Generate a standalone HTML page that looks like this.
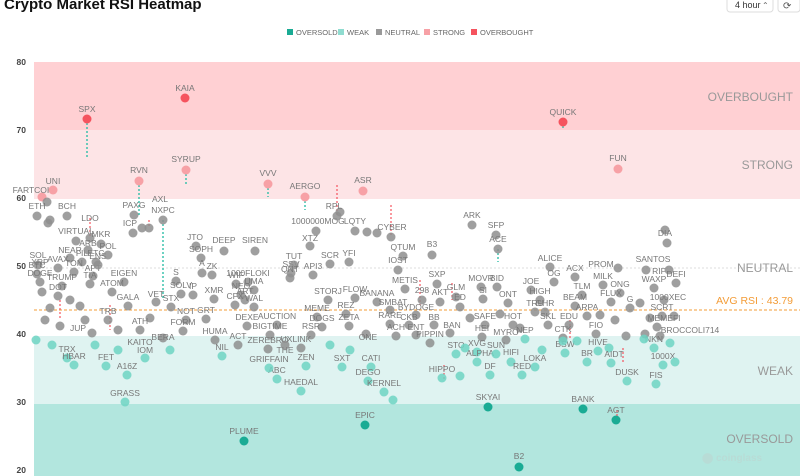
<!DOCTYPE html>
<html><head><meta charset="utf-8"><style>
body{margin:0;background:#fff;width:800px;height:476px;overflow:hidden;font-family:"Liberation Sans",sans-serif}
svg{position:absolute;left:0;top:0}
.n{fill:#8e8e8e;fill-opacity:.85}
.w{fill:#6fd3c3;fill-opacity:.85}
.o{fill:#1aab94}
.s{fill:#f7a1a6}
.b{fill:#f5535e}
text{font-family:"Liberation Sans",sans-serif}
.l text{font-size:8.5px;fill:#777;text-anchor:middle}
.dr{stroke:#f5535e;stroke-width:1.2;stroke-dasharray:2 2}
.dt{stroke:#2fbfa8;stroke-width:1.4;stroke-dasharray:2 2}
</style></head><body>
<svg width="800" height="476" viewBox="0 0 800 476">
<text x="4" y="9" font-size="15" font-weight="bold" fill="#111">Crypto Market RSI Heatmap</text>
<rect x="727" y="-4" width="46" height="16" rx="3" fill="#fff" stroke="#ddd"/>
<text x="735" y="8" font-size="9" fill="#333">4 hour</text><text x="762" y="8" font-size="8" fill="#666">⌃</text>
<rect x="778" y="-4" width="22" height="16" rx="3" fill="#fff" stroke="#ddd"/>
<text x="783" y="9" font-size="10" fill="#555">⟳</text>
<g font-size="7.5" fill="#666">
<rect x="287" y="29" width="6" height="6" fill="#1aab94"/><text x="296" y="35">OVERSOLD</text>
<rect x="338" y="29" width="6" height="6" fill="#8fdcd0"/><text x="347" y="35">WEAK</text>
<rect x="376" y="29" width="6" height="6" fill="#999"/><text x="385" y="35">NEUTRAL</text>
<rect x="424" y="29" width="6" height="6" fill="#f7a1a6"/><text x="433" y="35">STRONG</text>
<rect x="471" y="29" width="6" height="6" fill="#f5535e"/><text x="480" y="35">OVERBOUGHT</text>
</g>
<rect x="34" y="62" width="766" height="68" fill="#ffd0d3"/>
<rect x="34" y="130" width="766" height="69" fill="#fde4e6"/>
<rect x="34" y="336" width="766" height="68" fill="#dff3f1"/>
<rect x="34" y="404" width="766" height="72" fill="#b2e6de"/>
<line x1="34" y1="268" x2="800" y2="268" stroke="#ddd" stroke-dasharray="2 2"/>
<g font-size="8.5" font-weight="bold" fill="#444" text-anchor="end">
<text x="26" y="65">80</text><text x="26" y="133">70</text><text x="26" y="201">60</text><text x="26" y="269">50</text><text x="26" y="337">40</text><text x="26" y="405">30</text><text x="26" y="473">20</text></g>
<g font-size="12" fill="#999" text-anchor="end">
<text x="793" y="101">OVERBOUGHT</text><text x="793" y="169">STRONG</text><text x="793" y="272">NEUTRAL</text><text x="793" y="375">WEAK</text><text x="793" y="443">OVERSOLD</text></g>
<text x="793" y="304" font-size="10.5" fill="#f39c37" text-anchor="end">AVG RSI : 43.79</text>
<line x1="34" y1="310" x2="800" y2="310" stroke="#f39c37" stroke-dasharray="3 2"/>
<text x="702" y="461" font-size="10" fill="#b8dcd6" font-weight="bold">⬤ coinglass</text>
<g>
<line class="dt" x1="87" y1="119" x2="87" y2="158"/><line class="dt" x1="163" y1="220" x2="163" y2="300"/>
<line class="dt" x1="139" y1="181" x2="139" y2="215"/><line class="dt" x1="186" y1="170" x2="186" y2="186"/>
<line class="dt" x1="268" y1="184" x2="268" y2="197"/><line class="dt" x1="305" y1="197" x2="305" y2="210"/>
<line class="dt" x1="498" y1="249" x2="498" y2="262"/><line class="dt" x1="563" y1="122" x2="563" y2="128"/>
<line class="dr" x1="337" y1="185" x2="337" y2="216"/><line class="dr" x1="391" y1="205" x2="391" y2="237"/>
<line class="dr" x1="90" y1="218" x2="90" y2="238"/><line class="dr" x1="149" y1="220" x2="149" y2="228"/>
<line class="dr" x1="623" y1="348" x2="623" y2="362"/><line class="dr" x1="444" y1="365" x2="444" y2="380"/>
<line class="dr" x1="420" y1="280" x2="420" y2="305"/><line class="dr" x1="452" y1="283" x2="452" y2="300"/>
<line class="dr" x1="110" y1="305" x2="110" y2="330"/><line class="dr" x1="60" y1="300" x2="60" y2="320"/>
<line class="dr" x1="570" y1="320" x2="570" y2="340"/><line class="dr" x1="617" y1="410" x2="617" y2="420"/>
</g>
<g class="l">
<circle class="b" cx="87" cy="119" r="4.5"/><text x="87" y="112">SPX</text>
<circle class="b" cx="185" cy="98" r="4.5"/><text x="185" y="91">KAIA</text>
<circle class="b" cx="563" cy="122" r="4.5"/><text x="563" y="115">QUICK</text>
<circle class="s" cx="186" cy="170" r="4.5"/><text x="186" y="162">SYRUP</text>
<circle class="s" cx="139" cy="181" r="4.5"/><text x="139" y="173">RVN</text>
<circle class="s" cx="268" cy="184" r="4.5"/><text x="268" y="176">VVV</text>
<circle class="s" cx="305" cy="197" r="4.5"/><text x="305" y="189">AERGO</text>
<circle class="s" cx="363" cy="191" r="4.5"/><text x="363" y="183">ASR</text>
<circle class="s" cx="618" cy="169" r="4.5"/><text x="618" y="161">FUN</text>
<circle class="s" cx="42" cy="197" r="4.5"/><text x="34" y="193">FARTCOIN</text>
<circle class="s" cx="53" cy="190" r="4.5"/><text x="53" y="184">UNI</text>
<circle class="n" cx="47" cy="202" r="4.5"/>
<circle class="n" cx="37" cy="216" r="4.5"/><text x="37" y="209">ETH</text>
<circle class="n" cx="67" cy="216" r="4.5"/><text x="67" y="209">BCH</text>
<circle class="n" cx="50" cy="220" r="4.5"/><circle class="n" cx="48" cy="223" r="4.5"/>
<circle class="n" cx="90" cy="238" r="4.5"/><text x="90" y="221">LDO</text>
<circle class="n" cx="76" cy="241" r="4.5"/><text x="76" y="234">VIRTUAL</text>
<circle class="n" cx="101" cy="244" r="4.5"/><text x="101" y="237">MKR</text>
<circle class="n" cx="134" cy="215" r="4.5"/><text x="134" y="208">PAXG</text>
<circle class="n" cx="163" cy="220" r="4.5"/><text x="160" y="202">AXL</text><text x="163" y="213">NXPC</text>
<circle class="n" cx="133" cy="233" r="4.5"/><text x="130" y="226">ICP</text>
<circle class="n" cx="142" cy="228" r="4.5"/><circle class="n" cx="149" cy="228" r="4.5"/>
<circle class="n" cx="316" cy="231" r="4.5"/><text x="318" y="224">1000000MOG</text>
<circle class="n" cx="337" cy="216" r="4.5"/><circle class="n" cx="340" cy="212" r="4.5"/><text x="334" y="209">RPL</text>
<circle class="n" cx="355" cy="231" r="4.5"/><text x="355" y="224">LQTY</text>
<circle class="n" cx="367" cy="232" r="4.5"/><circle class="n" cx="377" cy="233" r="4.5"/>
<circle class="n" cx="391" cy="237" r="4.5"/><text x="392" y="230">CYBER</text>
<circle class="n" cx="310" cy="246" r="4.5"/><text x="310" y="241">XTZ</text>
<circle class="n" cx="196" cy="246" r="4.5"/><text x="195" y="240">JTO</text>
<circle class="n" cx="224" cy="251" r="4.5"/><text x="224" y="243">DEEP</text>
<circle class="n" cx="255" cy="251" r="4.5"/><text x="255" y="243">SIREN</text>
<circle class="n" cx="472" cy="225" r="4.5"/><text x="472" y="218">ARK</text>
<circle class="n" cx="496" cy="235" r="4.5"/><text x="496" y="228">SFP</text>
<circle class="n" cx="498" cy="249" r="4.5"/><text x="498" y="242">ACE</text>
<circle class="n" cx="403" cy="256" r="4.5"/><text x="403" y="250">QTUM</text>
<circle class="n" cx="432" cy="255" r="4.5"/><text x="432" y="247">B3</text>
<circle class="n" cx="667" cy="243" r="4.5"/><circle class="n" cx="665" cy="230" r="4.5"/><text x="665" y="236">DIA</text>
<circle class="n" cx="398" cy="270" r="4.5"/><text x="398" y="263">IOST</text>
<circle class="n" cx="38" cy="265" r="4.5"/><text x="38" y="258">SOL</text>
<circle class="n" cx="37" cy="274" r="4.5"/><text x="37" y="268">BTC</text>
<circle class="n" cx="40" cy="282" r="4.5"/><text x="40" y="276">DOGE</text>
<circle class="n" cx="42" cy="292" r="4.5"/><text x="40" y="265">XRP</text>
<circle class="n" cx="82" cy="262" r="4.5"/><text x="82" y="256">FIL</text>
<circle class="n" cx="88" cy="250" r="4.5"/><text x="88" y="246">ARB</text>
<circle class="n" cx="96" cy="262" r="4.5"/><text x="96" y="256">ETC</text>
<circle class="n" cx="70" cy="258" r="4.5"/><text x="70" y="253">NEAR</text>
<circle class="n" cx="58" cy="268" r="4.5"/><text x="58" y="262">AVAX</text>
<circle class="n" cx="74" cy="272" r="4.5"/><text x="74" y="266">TON</text>
<circle class="n" cx="93" cy="276" r="4.5"/><text x="93" y="271">APT</text>
<circle class="n" cx="98" cy="265" r="4.5"/><text x="98" y="259">ENS</text>
<circle class="n" cx="108" cy="255" r="4.5"/><text x="108" y="249">POL</text>
<circle class="n" cx="124" cy="282" r="4.5"/><text x="124" y="276">EIGEN</text>
<circle class="n" cx="62" cy="286" r="4.5"/><text x="62" y="280">TRUMP</text>
<circle class="n" cx="90" cy="284" r="4.5"/><text x="90" y="278">TIA</text>
<circle class="n" cx="58" cy="296" r="4.5"/><text x="58" y="290">DOT</text>
<circle class="n" cx="112" cy="292" r="4.5"/><text x="112" y="286">ATOM</text>
<circle class="n" cx="128" cy="306" r="4.5"/><text x="128" y="300">GALA</text>
<circle class="n" cx="108" cy="320" r="4.5"/><text x="108" y="314">TRB</text>
<circle class="n" cx="80" cy="306" r="4.5"/><circle class="n" cx="70" cy="300" r="4.5"/><circle class="n" cx="50" cy="308" r="4.5"/>
<circle class="n" cx="45" cy="320" r="4.5"/><circle class="n" cx="60" cy="326" r="4.5"/><circle class="n" cx="85" cy="320" r="4.5"/>
<circle class="n" cx="92" cy="333" r="4.5"/><circle class="n" cx="118" cy="330" r="4.5"/><circle class="n" cx="150" cy="318" r="4.5"/>
<circle class="n" cx="140" cy="330" r="4.5"/><text x="140" y="324">ATH</text><text x="78" y="331">JUP</text>
<circle class="n" cx="163" cy="338" r="4.5"/><text x="163" y="340">BERA</text>
<circle class="n" cx="156" cy="302" r="4.5"/><text x="156" y="297">VET</text>
<circle class="n" cx="171" cy="307" r="4.5"/><text x="171" y="301">STX</text>
<circle class="n" cx="176" cy="281" r="4.5"/><text x="176" y="275">S</text>
<circle class="n" cx="181" cy="294" r="4.5"/><text x="181" y="288">SOLV</text>
<circle class="n" cx="193" cy="295" r="4.5"/><text x="193" y="289">IP</text>
<circle class="n" cx="201" cy="258" r="4.5"/><text x="201" y="252">SOPH</text>
<circle class="n" cx="212" cy="275" r="4.5"/><text x="212" y="269">ZK</text>
<circle class="n" cx="202" cy="273" r="4.5"/><text x="202" y="266">A</text>
<circle class="n" cx="214" cy="299" r="4.5"/><text x="214" y="293">XMR</text>
<circle class="n" cx="186" cy="320" r="4.5"/><text x="186" y="314">NOT</text>
<circle class="n" cx="206" cy="319" r="4.5"/><text x="206" y="313">GRT</text>
<circle class="n" cx="183" cy="331" r="4.5"/><text x="183" y="325">FORM</text>
<circle class="n" cx="236" cy="284" r="4.5"/><text x="236" y="278">WIF</text>
<circle class="n" cx="248" cy="282" r="4.5"/><text x="248" y="276">1000FLOKI</text>
<circle class="n" cx="254" cy="290" r="4.5"/><text x="254" y="284">UMA</text>
<circle class="n" cx="241" cy="295" r="4.5"/><text x="241" y="289">NEO</text>
<circle class="n" cx="245" cy="300" r="4.5"/><text x="245" y="294">ART</text>
<circle class="n" cx="235" cy="305" r="4.5"/><text x="235" y="299">CFX</text>
<circle class="n" cx="254" cy="307" r="4.5"/><text x="254" y="301">WAL</text>
<circle class="n" cx="247" cy="326" r="4.5"/><text x="247" y="320">DEXE</text>
<circle class="n" cx="215" cy="340" r="4.5"/><text x="215" y="334">HUMA</text>
<circle class="n" cx="238" cy="345" r="4.5"/><text x="238" y="339">ACT</text>
<circle class="n" cx="291" cy="273" r="4.5"/><text x="291" y="267">SSV</text>
<circle class="n" cx="294" cy="265" r="4.5"/><text x="294" y="259">TUT</text>
<circle class="n" cx="290" cy="278" r="4.5"/><text x="290" y="272">QNT</text>
<circle class="n" cx="313" cy="275" r="4.5"/><text x="313" y="269">API3</text>
<circle class="n" cx="330" cy="264" r="4.5"/><text x="330" y="258">SCR</text>
<circle class="n" cx="349" cy="262" r="4.5"/><text x="349" y="256">YFI</text>
<circle class="n" cx="355" cy="298" r="4.5"/><text x="355" y="292">FLOW</text>
<circle class="n" cx="328" cy="300" r="4.5"/><text x="328" y="294">STORJ</text>
<circle class="n" cx="377" cy="302" r="4.5"/><text x="377" y="296">BANANA</text>
<circle class="n" cx="346" cy="314" r="4.5"/><text x="346" y="308">REZ</text>
<circle class="n" cx="317" cy="317" r="4.5"/><text x="317" y="311">MEME</text>
<circle class="n" cx="322" cy="327" r="4.5"/><text x="322" y="321">DOGS</text>
<circle class="n" cx="349" cy="326" r="4.5"/><text x="349" y="320">ZETA</text>
<circle class="n" cx="277" cy="325" r="4.5"/><text x="277" y="319">AUCTION</text>
<circle class="n" cx="270" cy="335" r="4.5"/><text x="270" y="329">BIGTIME</text>
<circle class="n" cx="311" cy="335" r="4.5"/><text x="311" y="329">RSR</text>
<circle class="n" cx="301" cy="348" r="4.5"/><text x="296" y="342">UXLINK</text>
<circle class="n" cx="268" cy="349" r="4.5"/><text x="268" y="343">ZEREBRO</text>
<circle class="n" cx="285" cy="345" r="4.5"/><text x="285" y="353">THE</text>
<circle class="n" cx="390" cy="310" r="4.5"/><text x="393" y="305">SMBAT</text>
<circle class="n" cx="390" cy="324" r="4.5"/><text x="390" y="318">RARE</text>
<circle class="n" cx="396" cy="336" r="4.5"/><text x="396" y="330">ACH</text>
<circle class="n" cx="366" cy="334" r="4.5"/><text x="368" y="340">ONE</text>
<circle class="n" cx="405" cy="289" r="4.5"/><text x="405" y="283">METIS</text>
<circle class="n" cx="437" cy="284" r="4.5"/><text x="437" y="277">SXP</text>
<circle class="n" cx="440" cy="302" r="4.5"/><text x="440" y="295">AKT</text>
<circle class="n" cx="422" cy="300" r="4.5"/><text x="422" y="293">298</text>
<circle class="n" cx="456" cy="297" r="4.5"/><text x="456" y="290">GLM</text>
<circle class="n" cx="460" cy="307" r="4.5"/><text x="460" y="300">ED</text>
<circle class="n" cx="416" cy="315" r="4.5"/><text x="416" y="310">BYDOGE</text>
<circle class="n" cx="409" cy="325" r="4.5"/><text x="409" y="320">CKB</text>
<circle class="n" cx="434" cy="325" r="4.5"/><text x="434" y="320">BB</text>
<circle class="n" cx="416" cy="335" r="4.5"/><text x="416" y="330">ENT</text>
<circle class="n" cx="450" cy="333" r="4.5"/><text x="452" y="328">BAN</text>
<circle class="n" cx="430" cy="343" r="4.5"/><text x="430" y="337">PIPPIN</text>
<circle class="n" cx="481" cy="287" r="4.5"/><text x="481" y="281">MOVR</text>
<circle class="n" cx="497" cy="287" r="4.5"/><text x="497" y="281">BID</text>
<circle class="n" cx="483" cy="299" r="4.5"/><text x="483" y="293">SI</text>
<circle class="n" cx="508" cy="303" r="4.5"/><text x="508" y="297">ONT</text>
<circle class="n" cx="531" cy="290" r="4.5"/><text x="531" y="284">JOE</text>
<circle class="n" cx="540" cy="300" r="4.5"/><text x="540" y="294">HIGH</text>
<circle class="n" cx="535" cy="312" r="4.5"/><text x="535" y="306">TRU</text>
<circle class="n" cx="545" cy="312" r="4.5"/><text x="545" y="306">GHR</text>
<circle class="n" cx="548" cy="325" r="4.5"/><text x="548" y="319">SKL</text>
<circle class="n" cx="513" cy="325" r="4.5"/><text x="513" y="319">HOT</text>
<circle class="n" cx="485" cy="325" r="4.5"/><text x="485" y="319">SAFE</text>
<circle class="n" cx="482" cy="337" r="4.5"/><text x="482" y="331">HEI</text>
<circle class="n" cx="506" cy="340" r="4.5"/><text x="506" y="335">MYRO</text>
<circle class="n" cx="470" cy="318" r="4.5"/><circle class="n" cx="500" cy="314" r="4.5"/><circle class="n" cx="520" cy="328" r="4.5"/>
<circle class="n" cx="550" cy="267" r="4.5"/><text x="550" y="261">ALICE</text>
<circle class="n" cx="554" cy="282" r="4.5"/><text x="554" y="276">OG</text>
<circle class="n" cx="575" cy="277" r="4.5"/><text x="575" y="271">ACX</text>
<circle class="n" cx="618" cy="268" r="4.5"/><text x="601" y="267">PROM</text>
<circle class="n" cx="603" cy="285" r="4.5"/><text x="603" y="279">MILK</text>
<circle class="n" cx="620" cy="293" r="4.5"/><text x="620" y="287">ONG</text>
<circle class="n" cx="654" cy="288" r="4.5"/><text x="654" y="282">WAXP</text>
<circle class="n" cx="646" cy="270" r="4.5"/><text x="659" y="274">RIF</text>
<circle class="n" cx="676" cy="283" r="4.5"/><circle class="n" cx="669" cy="270" r="4.5"/><text x="676" y="277">DEFI</text>
<text x="653" y="262">SANTOS</text>
<circle class="n" cx="664" cy="300" r="4.5"/><text x="668" y="300">1000XEC</text>
<circle class="n" cx="662" cy="316" r="4.5"/><text x="662" y="310">SCRT</text>
<circle class="n" cx="674" cy="316" r="4.5"/><circle class="n" cx="650" cy="318" r="4.5"/>
<circle class="n" cx="657" cy="327" r="4.5"/><text x="664" y="321">MEMEFI</text>
<circle class="n" cx="626" cy="336" r="4.5"/><text x="690" y="333">BROCCOLI714</text>
<circle class="n" cx="645" cy="334" r="4.5"/><circle class="n" cx="660" cy="336" r="4.5"/>
<circle class="n" cx="582" cy="295" r="4.5"/><text x="582" y="289">TLM</text>
<circle class="n" cx="575" cy="306" r="4.5"/><text x="575" y="300">BEAM</text>
<circle class="n" cx="611" cy="302" r="4.5"/><text x="611" y="296">FLUX</text>
<circle class="n" cx="630" cy="308" r="4.5"/><text x="630" y="302">G</text>
<circle class="n" cx="587" cy="316" r="4.5"/><text x="587" y="310">ARPA</text>
<circle class="n" cx="569" cy="325" r="4.5"/><text x="569" y="319">EDU</text>
<circle class="n" cx="596" cy="334" r="4.5"/><text x="596" y="328">FIO</text>
<circle class="n" cx="563" cy="338" r="4.5"/><text x="563" y="332">CTK</text>
<circle class="n" cx="600" cy="315" r="4.5"/><circle class="n" cx="640" cy="303" r="4.5"/><circle class="n" cx="615" cy="320" r="4.5"/>
<circle class="w" cx="36" cy="340" r="4.5"/><circle class="w" cx="52" cy="345" r="4.5"/>
<circle class="w" cx="67" cy="358" r="4.5"/><text x="67" y="352">TRX</text>
<circle class="w" cx="74" cy="365" r="4.5"/><text x="74" y="359">HBAR</text>
<circle class="w" cx="106" cy="366" r="4.5"/><text x="106" y="360">FET</text>
<circle class="w" cx="127" cy="375" r="4.5"/><text x="127" y="369">A16Z</text>
<circle class="w" cx="145" cy="358" r="4.5"/><text x="140" y="345">KAITO</text><text x="145" y="353">IOM</text>
<circle class="w" cx="125" cy="402" r="4.5"/><text x="125" y="396">GRASS</text>
<circle class="w" cx="118" cy="350" r="4.5"/><circle class="w" cx="95" cy="345" r="4.5"/><circle class="w" cx="170" cy="350" r="4.5"/>
<circle class="w" cx="222" cy="356" r="4.5"/><text x="222" y="350">NIL</text>
<circle class="w" cx="277" cy="379" r="4.5"/><text x="277" y="373">ABC</text>
<circle class="w" cx="269" cy="368" r="4.5"/><text x="269" y="362">GRIFFAIN</text>
<circle class="w" cx="306" cy="366" r="4.5"/><text x="306" y="360">ZEN</text>
<circle class="w" cx="301" cy="391" r="4.5"/><text x="301" y="385">HAEDAL</text>
<circle class="w" cx="342" cy="367" r="4.5"/><text x="342" y="361">SXT</text>
<circle class="w" cx="371" cy="367" r="4.5"/><text x="371" y="361">CATI</text>
<circle class="w" cx="368" cy="381" r="4.5"/><text x="368" y="375">DEGO</text>
<circle class="w" cx="384" cy="392" r="4.5"/><text x="384" y="386">KERNEL</text>
<circle class="w" cx="393" cy="400" r="4.5"/><circle class="w" cx="350" cy="350" r="4.5"/><circle class="w" cx="330" cy="345" r="4.5"/>
<circle class="w" cx="442" cy="378" r="4.5"/><text x="442" y="372">HIPPO</text>
<circle class="w" cx="456" cy="354" r="4.5"/><text x="456" y="348">STO</text>
<circle class="w" cx="477" cy="352" r="4.5"/><text x="477" y="346">XVG</text>
<circle class="w" cx="477" cy="362" r="4.5"/><text x="480" y="356">ALPHA</text>
<circle class="w" cx="496" cy="354" r="4.5"/><text x="496" y="348">SUN</text>
<circle class="w" cx="511" cy="362" r="4.5"/><text x="511" y="355">HIFI</text>
<circle class="w" cx="535" cy="367" r="4.5"/><text x="535" y="361">LOKA</text>
<circle class="w" cx="490" cy="375" r="4.5"/><text x="490" y="369">DF</text>
<circle class="w" cx="522" cy="375" r="4.5"/><text x="522" y="369">RED</text>
<circle class="w" cx="460" cy="376" r="4.5"/><circle class="w" cx="465" cy="348" r="4.5"/><circle class="w" cx="542" cy="350" r="4.5"/>
<circle class="w" cx="525" cy="339" r="4.5"/><text x="525" y="333">NEP</text>
<circle class="w" cx="565" cy="353" r="4.5"/><text x="565" y="347">BSW</text>
<circle class="w" cx="587" cy="362" r="4.5"/><text x="587" y="356">BR</text>
<circle class="w" cx="598" cy="351" r="4.5"/><text x="598" y="345">HIVE</text>
<circle class="w" cx="563" cy="341" r="4.5"/><circle class="w" cx="577" cy="341" r="4.5"/><circle class="w" cx="609" cy="348" r="4.5"/>
<circle class="w" cx="611" cy="363" r="4.5"/><text x="614" y="357">AIDT</text>
<circle class="w" cx="627" cy="381" r="4.5"/><text x="627" y="375">DUSK</text>
<circle class="w" cx="656" cy="384" r="4.5"/><text x="656" y="378">FIS</text>
<circle class="w" cx="654" cy="348" r="4.5"/><text x="654" y="342">NKN</text>
<circle class="w" cx="663" cy="365" r="4.5"/><text x="663" y="359">1000X</text>
<circle class="w" cx="675" cy="362" r="4.5"/><circle class="w" cx="670" cy="343" r="4.5"/><circle class="w" cx="644" cy="339" r="4.5"/>
<circle class="o" cx="488" cy="407" r="4.5"/><text x="488" y="400">SKYAI</text>
<circle class="o" cx="583" cy="409" r="4.5"/><text x="583" y="402">BANK</text>
<circle class="o" cx="616" cy="420" r="4.5"/><text x="616" y="413">AGT</text>
<circle class="o" cx="519" cy="467" r="4.5"/><text x="519" y="459">B2</text>
<circle class="o" cx="365" cy="425" r="4.5"/><text x="365" y="418">EPIC</text>
<circle class="o" cx="244" cy="441" r="4.5"/><text x="244" y="434">PLUME</text>
</g>
</svg>
</body></html>
